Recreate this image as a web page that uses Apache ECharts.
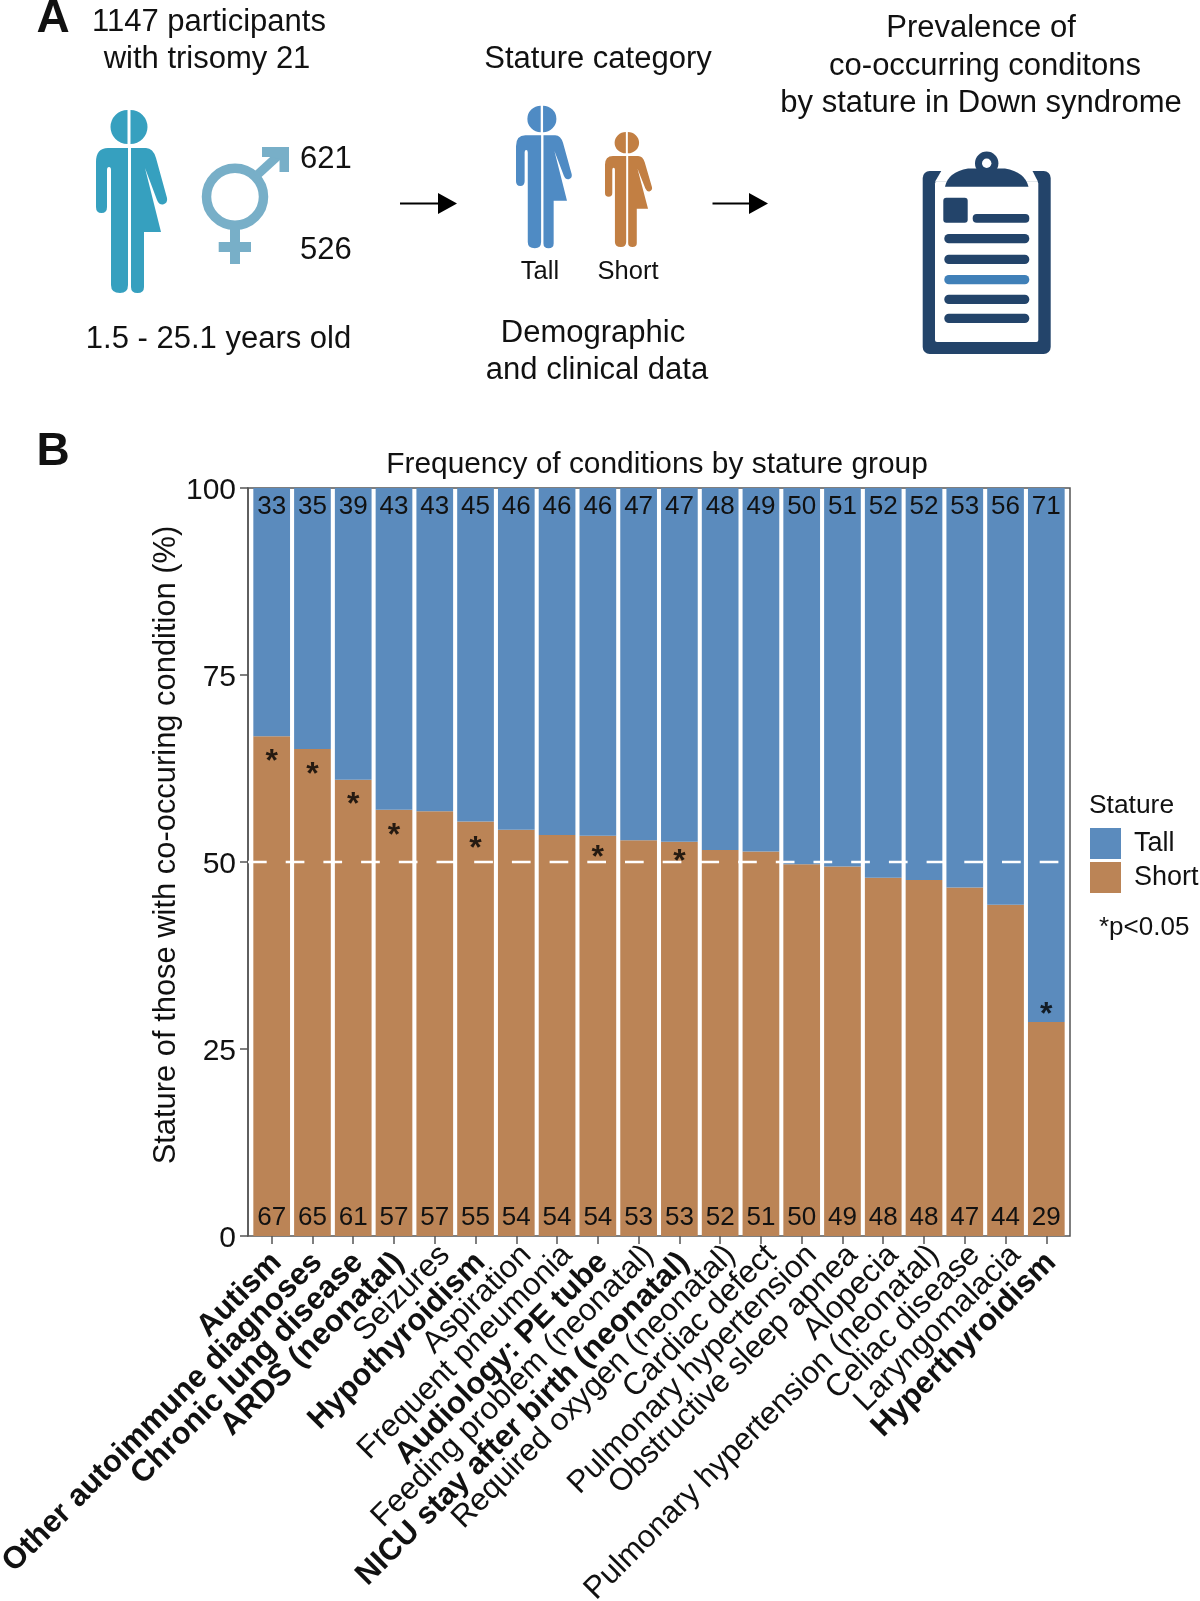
<!DOCTYPE html>
<html>
<head>
<meta charset="UTF-8">
<title>Stature in Down syndrome</title>
<style>
  html, body { margin: 0; height: 100%; background: #fff; }
  #container { width: 1200px; height: 1601px; }
</style>
</head>
<body>
<div id="container"></div>
<script src="https://cdn.jsdelivr.net/npm/echarts@6/dist/echarts.min.js"></script>
<script>
// values
var categories = ['Autism', 'Other autoimmune diagnoses', 'Chronic lung disease', 'ARDS (neonatal)', 'Seizures',
  'Hypothyroidism', 'Aspiration', 'Frequent pneumonia', 'Audiology: PE tube', 'Feeding problem (neonatal)',
  'NICU stay after birth (neonatal)', 'Required oxygen (neonatal)', 'Cardiac defect', 'Pulmonary hypertension',
  'Obstructive sleep apnea', 'Alopecia', 'Pulmonary hypertension (neonatal)', 'Celiac disease', 'Laryngomalacia',
  'Hyperthyroidism'];
var boldCategories = ['Autism', 'Other autoimmune diagnoses', 'Chronic lung disease', 'ARDS (neonatal)',
  'Hypothyroidism', 'Audiology: PE tube', 'NICU stay after birth (neonatal)', 'Hyperthyroidism'];
var shortValues = [66.8, 65.1, 61, 57, 56.8, 55.4, 54.3, 53.6, 53.5, 52.9, 52.7, 51.6, 51.4, 49.7, 49.4, 47.9, 47.6, 46.6, 44.3, 28.6];
var tallValues = [33.2, 34.9, 39, 43, 43.2, 44.6, 45.7, 46.4, 46.5, 47.1, 47.3, 48.4, 48.6, 50.3, 50.6, 52.1, 52.4, 53.4, 55.7, 71.4];
var shortLabels = [67, 65, 61, 57, 57, 55, 54, 54, 54, 53, 53, 52, 51, 50, 49, 48, 48, 47, 44, 29];
var tallLabels = [33, 35, 39, 43, 43, 45, 46, 46, 46, 47, 47, 48, 49, 50, 51, 52, 52, 53, 56, 71];
var starValues = [64.3, 62.5, 58.5, 54.4, null, 52.7, null, null, 51.4, null, 50.9, null, null, null, null, null, null, null, null, 30.4];

var tallColor = '#5b8bbd';
var shortColor = '#bb8456';
var inkColor = '#111';
var fontName = '"Liberation Sans", Arial, sans-serif';

var dom = document.getElementById('container');
var myChart = echarts.init(dom);

// split person pictogram, drawn in the coordinates of the big one (box 96,110 71x183)
echarts.graphic.registerShape('person', echarts.graphic.extendPath(
  'M127.5 110A17 17 0 0 0 127.5 144Z M130.5 110A17 17 0 0 1 130.5 144Z ' +
  'M128 148L108 148Q96 148 96 162L96 207Q96 213 101.5 213Q107 213 107 207L107 170Q107 167 109 167Q111 167 111 170' +
  'L111 285Q111 293 120 293Q128 293 128 285Z ' +
  'M131 148L146 148Q153 148 156 158L167 198Q168 203 163 204.5Q159 205 157 200L145 168L161 232L144 232L144 287' +
  'Q144 293 137.5 293Q131 293 131 287Z', {}));
echarts.graphic.registerShape('clamp', echarts.graphic.extendPath(
  'M945 186.7Q948 172 968 168.5L1005 168.5Q1025 172 1028.5 186.7Z', {}));

function person(x, y, w, h, color) {
  var sx = w / 71, sy = h / 183;
  return {
    type: 'person', x: x - 96 * sx, y: y - 110 * sy, scaleX: sx, scaleY: sy,
    style: {fill: color}
  };
}

function label(text, x, y, size, align, weight) {
  return {
    type: 'text',
    style: {
      text: text, x: x, y: y, fill: inkColor,
      font: (weight || 'normal') + ' ' + size + 'px ' + fontName,
      textAlign: align || 'center', textVerticalAlign: 'middle'
    },
    z: 10
  };
}

function arrow(x0, x1, y) {
  return [
    {type: 'line', shape: {x1: x0, y1: y, x2: x1 - 15, y2: y}, style: {stroke: '#000', lineWidth: 2}},
    {type: 'polygon', shape: {points: [[x1 - 19, y - 10.5], [x1, y], [x1 - 19, y + 10.5]]}, style: {fill: '#000'}}
  ];
}

function bar(x, y, w, h, r, color) {
  return {type: 'rect', shape: {x: x, y: y, width: w, height: h, r: r}, style: {fill: color}};
}

var navy = '#23446a';
var genderColor = '#78afc8';
var graphics = [
  label('A', 53, 19, 46, 'center', 'bold'),
  label('B', 53, 452, 46, 'center', 'bold'),

  label('1147 participants', 209, 22, 31),
  label('with trisomy 21', 207, 59, 31),
  person(96, 110, 71, 183, '#36a0bf'),
  {type: 'circle', shape: {cx: 235, cy: 196.7, r: 28.5}, style: {fill: 'none', stroke: genderColor, lineWidth: 9.5}},
  bar(230, 228, 10, 36, 0, genderColor),
  bar(218.7, 242, 32.3, 10, 0, genderColor),
  {type: 'line', shape: {x1: 256, y1: 176, x2: 280, y2: 154}, style: {stroke: genderColor, lineWidth: 9}},
  {type: 'polygon', shape: {points: [[262, 147], [289, 147], [289, 172], [279.5, 172], [279.5, 159], [271, 157], [262, 157]]}, style: {fill: genderColor}},
  label('621', 300, 159.5, 31, 'left'),
  label('526', 300, 250, 31, 'left'),
  label('1.5 - 25.1 years old', 218.5, 339.5, 31),

  label('Stature category', 598, 59, 31),
  person(516, 105.7, 55.7, 142.6, '#4f8bc4'),
  person(605, 132, 47, 115, '#c27f43'),
  label('Tall', 540, 272, 25.5),
  label('Short', 628, 272, 25.5),
  label('Demographic', 593, 333, 31),
  label('and clinical data', 597, 370, 31),

  label('Prevalence of', 981, 28.5, 31),
  label('co-occurring conditons', 985, 66.5, 31),
  label('by stature in Down syndrome', 981, 103.5, 31),

  // clipboard
  bar(922.7, 171, 128, 183, 7, navy),
  bar(935, 181.5, 103.3, 160.5, 2, '#fff'),
  {type: 'polygon', shape: {points: [[943, 168], [1031, 168], [1038, 181.7], [935, 181.7]]}, style: {fill: '#fff'}},
  {type: 'circle', shape: {cx: 986.7, cy: 163.3, r: 11.7}, style: {fill: navy}},
  {type: 'clamp', style: {fill: navy}},
  {type: 'circle', shape: {cx: 986.7, cy: 163.3, r: 4.7}, style: {fill: '#fff'}},
  bar(943.3, 197.7, 24.4, 25, 3, navy),
  bar(972.7, 214, 56.6, 8.7, 4, navy),
  bar(944.3, 234, 85, 9.3, 4.5, navy),
  bar(944.3, 254.7, 85, 9.3, 4.5, navy),
  bar(944.3, 275, 85, 9.3, 4.5, '#4080b8'),
  bar(944.3, 294.7, 85, 9.3, 4.5, navy),
  bar(944.3, 313.7, 85, 9.3, 4.5, navy),

  // panel B text around the plot
  label('Frequency of conditions by stature group', 657, 465, 29.9),
  {
    type: 'text', x: 166, y: 845, rotation: Math.PI / 2,
    style: {
      text: 'Stature of those with co-occuring condition (%)', fill: inkColor,
      font: '30.9px ' + fontName, textAlign: 'center', textVerticalAlign: 'middle'
    }
  },
  label('Stature', 1089, 806, 26.4, 'left'),
  label('*p<0.05', 1099, 928, 26, 'left')
].concat(arrow(400, 457, 203.5), arrow(712.5, 768, 203.5));

var option = {
  animation: false,
  backgroundColor: '#fff',
  textStyle: {fontFamily: fontName},
  // outer grid carries the frame and the y axis, inner grid the bars with side padding
  grid: [
    {left: 248, top: 488, width: 822, height: 748, outerBoundsMode: 'none', show: true, borderColor: '#555', borderWidth: 1.5, backgroundColor: 'transparent'},
    {left: 251.3, top: 488, width: 815.4, height: 748, outerBoundsMode: 'none'}
  ],
  xAxis: [
    {type: 'value', gridIndex: 0, min: 0, max: 1, show: false},
    {
      type: 'category', gridIndex: 1, data: categories,
      axisLine: {show: false},
      axisTick: {show: true, alignWithLabel: true, length: 8, lineStyle: {color: '#555', width: 1.5}},
      axisLabel: {
        interval: 0, rotate: 45, margin: 4,
        formatter: function (name) {
          return '{' + (boldCategories.indexOf(name) >= 0 ? 'b' : 'n') + '|' + name + '}';
        },
        // the top padding slides the rotated text off the tick, towards lower right
        rich: {
          n: {fontSize: 31.3, color: inkColor, fontFamily: fontName, padding: [29, 0, 0, 0]},
          b: {fontSize: 31, fontWeight: 'bold', color: inkColor, fontFamily: fontName, padding: [32, 9, 0, 0]}
        }
      }
    }
  ],
  yAxis: [
    {
      type: 'value', gridIndex: 0, min: 0, max: 100, interval: 25,
      axisLine: {show: true, lineStyle: {color: '#555', width: 1.5}},
      axisTick: {show: true, length: 8, lineStyle: {color: '#555', width: 1.5}},
      axisLabel: {
        margin: 12, formatter: '{t|{value}}',
        rich: {t: {fontSize: 30, color: inkColor, fontFamily: fontName, padding: [6, 0, 0, 0]}}
      },
      splitLine: {show: false}
    },
    {type: 'value', gridIndex: 1, min: 0, max: 100, show: false, splitLine: {show: false}}
  ],
  legend: {
    left: 1090, top: 828, padding: 0, orient: 'vertical', itemWidth: 31, itemHeight: 31, itemGap: 3,
    data: [{name: 'Tall', icon: 'rect'}, {name: 'Short', icon: 'rect'}],
    textStyle: {fontSize: 27, color: inkColor, padding: [0, 0, 0, 8]},
    selectedMode: false
  },
  series: [
    {
      name: 'Short', type: 'bar', stack: 'stature', xAxisIndex: 1, yAxisIndex: 1, barWidth: 36.7,
      itemStyle: {color: shortColor}, data: shortValues,
      label: {
        show: true, position: 'insideBottom', distance: 5, fontSize: 26, color: inkColor,
        formatter: function (p) { return shortLabels[p.dataIndex]; }
      }
    },
    {
      name: 'Tall', type: 'bar', stack: 'stature', xAxisIndex: 1, yAxisIndex: 1, barWidth: 36.7,
      itemStyle: {color: tallColor}, data: tallValues,
      label: {
        show: true, position: 'insideTop', distance: 6, fontSize: 26, color: inkColor,
        formatter: function (p) { return tallLabels[p.dataIndex]; }
      }
    },
    {
      name: 'half', type: 'line', xAxisIndex: 0, yAxisIndex: 0, z: 5, symbol: 'none', silent: true,
      data: [[0, 50], [1, 50]],
      lineStyle: {color: '#fff', width: 2.5, type: [18.7, 19]}
    },
    {
      name: 'significant', type: 'scatter', xAxisIndex: 1, yAxisIndex: 1, z: 6, symbolSize: 0, silent: true,
      data: starValues.map(function (v, i) { return [i, v]; }),
      label: {
        show: true, position: 'inside', formatter: '*', fontSize: 32, fontWeight: 'bold', color: '#000', offset: [0, 7]
      }
    }
  ],
  graphic: graphics
};

myChart.setOption(option);
</script>
</body>
</html>
